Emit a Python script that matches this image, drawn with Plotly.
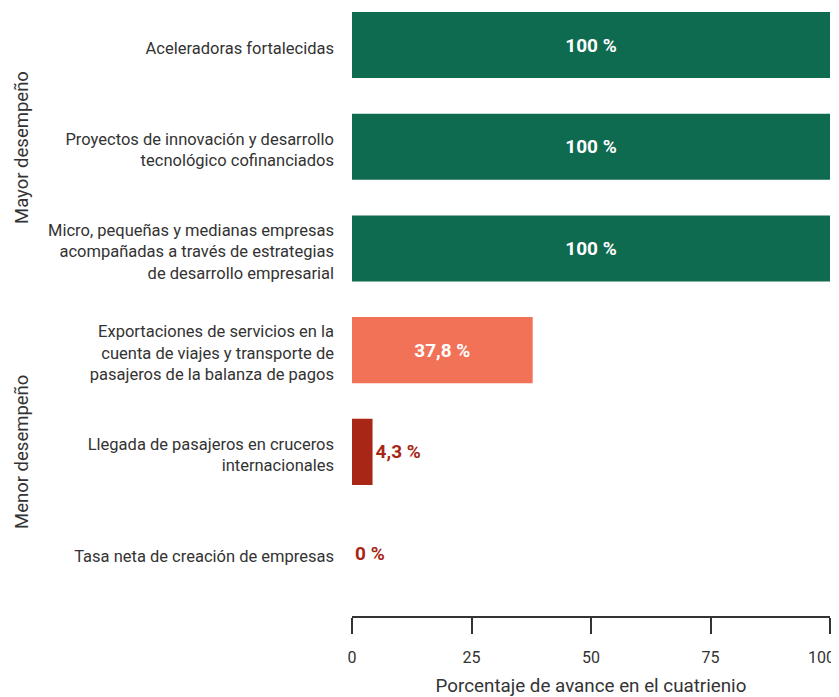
import plotly.graph_objects as go

# Indicators, top to bottom
categories = [
    "Aceleradoras fortalecidas",
    "Proyectos de innovación y desarrollo<br>tecnológico cofinanciados",
    "Micro, pequeñas y medianas empresas<br>acompañadas a través de estrategias<br>de desarrollo empresarial",
    "Exportaciones de servicios en la<br>cuenta de viajes y transporte de<br>pasajeros de la balanza de pagos",
    "Llegada de pasajeros en cruceros<br>internacionales",
    "Tasa neta de creación de empresas",
]
values = [100, 100, 100, 37.8, 4.3, 0]
value_labels = ["100 %", "100 %", "100 %", "37,8 %", "4,3 %", "0 %"]
x_ticks = [0, 25, 50, 75, 100]
x_tick_text = ["0", "25", "50", "75", "100"]

GREEN = "#0f6b50"
SALMON = "#f27257"
DARK_RED = "#a82615"
INK = "#333333"

bar_colors = [GREEN, GREEN, GREEN, SALMON, DARK_RED, DARK_RED]
text_colors = ["white", "white", "white", "white", DARK_RED, DARK_RED]
text_pos = ["inside", "inside", "inside", "inside", "outside", "outside"]

fig = go.Figure(
    go.Bar(
        x=values,
        y=categories,
        orientation="h",
        width=0.65,
        marker=dict(color=bar_colors, line=dict(width=0)),
        text=value_labels,
        textposition=text_pos,
        insidetextanchor="middle",
        textfont=dict(family="Roboto, sans-serif", size=19, color=text_colors, weight="bold"),
        outsidetextfont=dict(family="Roboto, sans-serif", size=19, color=text_colors, weight="bold"),
        cliponaxis=False,
        hoverinfo="skip",
    )
)

# page body has an 8px margin, so the figure is a bit smaller than the window
PW = 478  # plot width in px
PH = 608  # plot height in px

annotations = [
    dict(text="Mayor desempeño", x=(14 - 344) / PW, y=1 - 140 / PH,
         xref="paper", yref="paper", textangle=-90, showarrow=False,
         font=dict(size=18.5, color=INK), xanchor="center", yanchor="middle"),
    dict(text="Menor desempeño", x=(14 - 344) / PW, y=1 - 444 / PH,
         xref="paper", yref="paper", textangle=-90, showarrow=False,
         font=dict(size=18.5, color=INK), xanchor="center", yanchor="middle"),
    # last tick label sits flush with the right edge
    dict(text=x_tick_text[-1], x=x_ticks[-1], xref="x", y=0, yref="paper",
         xanchor="right", yanchor="middle", xshift=7, yshift=-41, showarrow=False,
         font=dict(size=16, color=INK)),
]

fig.update_layout(
    width=831,
    height=689,
    paper_bgcolor="white",
    plot_bgcolor="white",
    font=dict(family="Roboto, sans-serif", color=INK, size=16),
    margin=dict(l=344, r=9, t=0, b=81, autoexpand=False),
    showlegend=False,
    annotations=annotations,
)

fig.update_xaxes(
    range=[0, 100],
    tickvals=x_ticks,
    ticktext=x_tick_text[:-1] + [""],
    showgrid=False,
    zeroline=False,
    showline=True,
    linecolor=INK,
    linewidth=2,
    ticks="outside",
    ticklen=16,
    tickwidth=1.5,
    tickcolor=INK,
    ticklabelstandoff=10,
    automargin=False,
    tickfont=dict(size=16, color=INK),
    title=dict(text="Porcentaje de avance en el cuatrienio", font=dict(size=18.8, color=INK), standoff=14),
)
fig.update_yaxes(
    type="category",
    range=[5.614, -0.364],
    showgrid=False,
    zeroline=False,
    showline=False,
    ticks="",
    ticklabelstandoff=17,
    ticklabelshift=-3,
    automargin=False,
    tickfont=dict(size=16.5, color=INK),
)

fig.write_html("out.html")
